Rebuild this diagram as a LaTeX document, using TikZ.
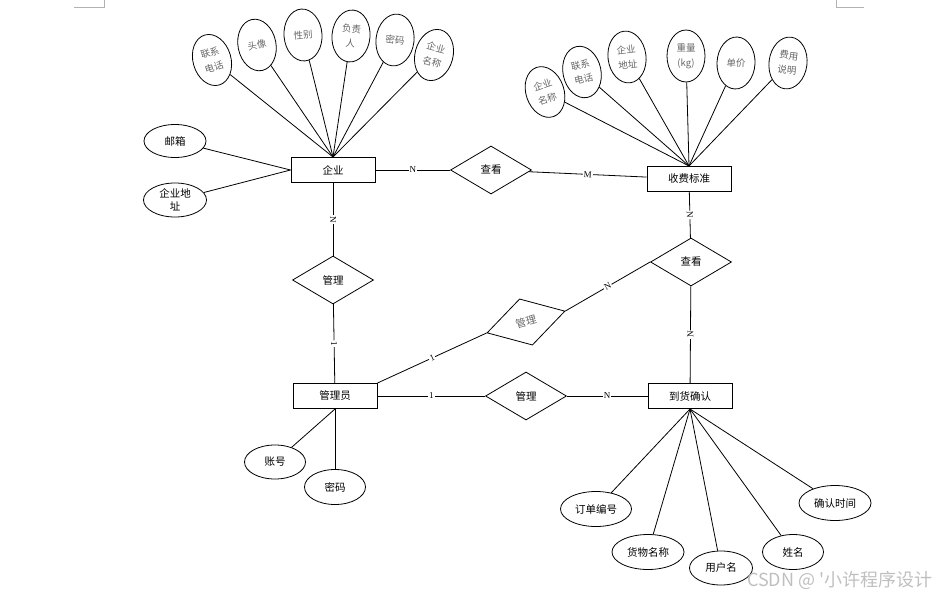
\documentclass[tikz,border=0pt]{standalone}
\usepackage{fontspec}
\setmainfont{Liberation Serif}
\newfontfamily\cjk{Noto Sans CJK SC}
\usetikzlibrary{shapes.geometric}
\tikzset{
    entity/.style={rectangle, draw, line width=1pt,
        minimum width=84pt, minimum height=25pt, inner sep=2pt,
        font=\cjk\fontsize{10.5}{12}\selectfont},
    rel/.style={diamond, draw, line width=0.8pt,
        minimum width=81pt, minimum height=48pt, inner sep=0pt,
        font=\cjk\fontsize{10.5}{12}\selectfont},
    attr/.style={ellipse, draw, line width=0.8pt,
        minimum width=38pt, minimum height=52pt, inner sep=0pt,
        align=center, text=black!60, font=\cjk\fontsize{9.5}{15}\selectfont},
    wattr/.style={ellipse, draw, line width=0.8pt,
        minimum width=61pt, minimum height=34pt, inner sep=0pt,
        align=center, font=\cjk\fontsize{10.5}{13}\selectfont},
    link/.style={line width=0.8pt},
    card/.style={fill=white, inner sep=1pt, sloped,
        font=\fontsize{9}{10}\selectfont}
}
\begin{document}
\begin{tikzpicture}[x=1pt,y=-1pt]
    \useasboundingbox (0,0) rectangle (941,596);
    % page corner marks
    \draw[black!30, line width=0.6pt] (74,7) -- (104,7) -- (104,0);
    \draw[black!30, line width=0.6pt] (836,0) -- (836,7) -- (864,7);

    % entities
    \node[entity] (qiye) at (333,170) {企业};
    \node[entity] (sfbz) at (689,179) {收费标准};
    \node[entity] (gly) at (335,396) {管理员};
    \node[entity] (dhqr) at (690,396) {到货确认};

    % relations
    \node[rel] (ck1) at (491,170) {查看};
    \node[rel] (gl1) at (333,280) {管理};
    \node[rel] (ck2) at (691,262) {查看};
    \node[rel, rotate=15.6, text=black!60] (gl2) at (526,322) {管理};
    \node[rel] (gl3) at (526,396) {管理};

    % attributes of qiye
    \node[attr, rotate=16] (qlxdh) at (212,60) {联系\\电话};
    \node[attr, rotate=11] (qtx) at (257,45) {头像};
    \node[attr, rotate=4] (qxb) at (303,35) {性别};
    \node[attr, rotate=-5] (qfzr) at (351,36) {负责\\人};
    \node[attr, rotate=-7] (qmm) at (395,40) {密码};
    \node[attr, rotate=-15] (qqymc) at (434,55) {企业\\名称};
    \node[wattr, minimum width=62pt, minimum height=33pt] (qyx) at (175,141) {邮箱};
    \node[wattr, minimum width=63pt] (qdz) at (175,200) {企业地\\址};

    % attributes of sfbz
    \node[attr, rotate=19] (sqymc) at (545,92) {企业\\名称};
    \node[attr, rotate=12] (slxdh) at (582,72) {联系\\电话};
    \node[attr, rotate=7] (sdz) at (627,57) {企业\\地址};
    \node[attr] (szl) at (686,56) {重量\\(kg)};
    \node[attr, rotate=-3] (sdj) at (736,63) {单价};
    \node[attr, rotate=-7] (ssm) at (788,63) {费用\\说明};

    % attributes of gly
    \node[wattr] (zh) at (275,462) {账号};
    \node[wattr, minimum height=35pt] (mm) at (335,487) {密码};

    % attributes of dhqr
    \node[wattr, minimum width=71pt, minimum height=35pt] (ddbh) at (596,509) {订单编号};
    \node[wattr, minimum width=72pt, minimum height=35pt] (hwmc) at (648,552) {货物名称};
    \node[wattr, minimum width=63pt] (yhm) at (721,568) {用户名};
    \node[wattr, minimum height=35pt] (xm) at (793,552) {姓名};
    \node[wattr, minimum width=72pt, minimum height=35pt] (qrsj) at (835,503) {确认时间};

    \path[link] (qlxdh) edge (qiye.north)
        (qtx) edge (qiye.north)
        (qxb) edge (qiye.north)
        (qfzr) edge (qiye.north)
        (qmm) edge (qiye.north)
        (qqymc) edge (qiye.north)
        (qyx) edge (qiye.west)
        (qdz) edge (qiye.west)
        (sqymc) edge (sfbz.north)
        (slxdh) edge (sfbz.north)
        (sdz) edge (sfbz.north)
        (szl) edge (sfbz.north)
        (sdj) edge (sfbz.north)
        (ssm) edge (sfbz.north)
        (zh) edge (gly.south)
        (mm) edge (gly.south)
        (ddbh) edge (dhqr.south)
        (hwmc) edge (dhqr.south)
        (yhm) edge (dhqr.south)
        (xm) edge (dhqr.south)
        (qrsj) edge (dhqr.south);

    \path[link] (qiye) edge node[card] {N} (ck1)
        (ck1) edge node[card] {M} (sfbz)
        (qiye) edge node[card] {N} (gl1)
        (gl1) edge node[card] {1} (gly)
        (sfbz) edge node[card] {N} (ck2)
        (ck2) edge node[card] {N} (dhqr)
        (ck2.west) edge node[card] {N} (gl2.east)
        (gl2.west) edge node[card] {1} (gly.north east)
        (gly) edge node[card] {1} (gl3)
        (gl3) edge node[card] {N} (dhqr);

    \node[anchor=east, text=black!25, font=\cjk\fontsize{18}{20}\selectfont] (wm) at (936,580) {CSDN @ '小许程序设计};
\end{tikzpicture}
\end{document}
